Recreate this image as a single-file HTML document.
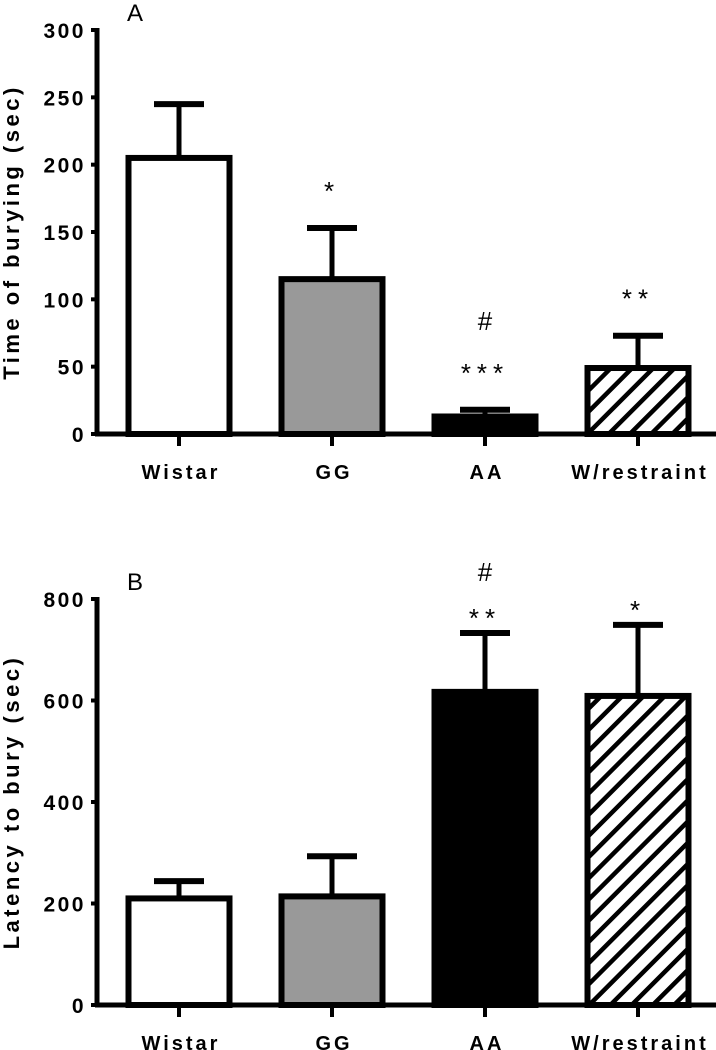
<!DOCTYPE html>
<html><head><meta charset="utf-8"><style>
html,body{margin:0;padding:0;background:#fff;}
svg{display:block;font-family:"Liberation Sans",Arial,sans-serif;}
.tick{font-weight:bold;font-size:21px;letter-spacing:2.5px;}
.cat{font-weight:bold;font-size:20px;letter-spacing:3px;}
.ttl{font-weight:bold;font-size:22px;letter-spacing:3.5px;}
.ann{font-size:26px;}
.pl{font-size:24px;}
</style></head><body>
<svg id="chart" width="716" height="1050" viewBox="0 0 716 1050" xmlns="http://www.w3.org/2000/svg">
<defs>
<pattern id="hatch" patternUnits="userSpaceOnUse" width="15" height="15" patternTransform="rotate(45)">
<rect width="15" height="15" fill="#fff"/>
<rect x="0" y="0" width="4.5" height="15" fill="#000"/>
</pattern>
</defs>
</svg>
<script>
const categories = ["Wistar","GG","AA","W/restraint"];
const buryingTime = [205, 115, 13, 49];
const buryingErr = [40, 38, 5, 24];
const buryingAnn = ["", "*", "***", "**"];
const buryingHash = ["", "", "#", ""];
const buryingTicks = [0, 50, 100, 150, 200, 250, 300];
const latency = [210, 214, 617, 609];
const latencyErr = [34, 79, 116, 140];
const latencyAnn = ["", "", "**", "*"];
const latencyHash = ["", "", "#", ""];
const latencyTicks = [0, 200, 400, 600, 800];
const fills = ["#fff", "#999", "#000", "url(#hatch)"];

const svg = document.getElementById('chart');
const NS = 'http://www.w3.org/2000/svg';
function mk(tag, attrs, parent){
  const e = document.createElementNS(NS, tag);
  for (const k in attrs) e.setAttribute(k, attrs[k]);
  (parent||svg).appendChild(e);
  return e;
}
function panel(opt){
  const g = mk('g', {});
  
  
  const x0 = 97, x1 = 716;
  const yv = v => opt.y0 - (v - 0) / opt.max * (opt.y0 - opt.yTop);
  const centers = [179, 332, 485, 638];
  const bw = 101;
  categories.forEach((c, i) => {
    const cx = centers[i];
    const top = yv(opt.values[i]);
    const et = yv(opt.values[i] + opt.errs[i]);
    const el = mk('line', {x1: cx, x2: cx, y1: top, y2: et, stroke: '#000', 'stroke-width': 5}, g);
    
    
    const cap = mk('line', {x1: cx - 25, x2: cx + 25, y1: et, y2: et, stroke: '#000', 'stroke-width': 6}, g);
    
    
    const r = mk('rect', {x: cx - bw/2, y: top, width: bw, height: opt.y0 - top, fill: fills[i], stroke: '#000', 'stroke-width': 6}, g);
    
    
    if (opt.ann[i]) {
      const t = mk('text', {x: cx, y: et - opt.annGap, 'text-anchor': 'middle', class: 'ann', 'letter-spacing': '6'}, g);
      t.textContent = opt.ann[i];
      
      
    }
    if (opt.hash[i]) {
      const t = mk('text', {x: cx, y: et - opt.hashGap, 'text-anchor': 'middle', class: 'ann'}, g);
      t.textContent = opt.hash[i];
      
      
    }
    const tk = mk('line', {x1: cx, x2: cx, y1: opt.y0, y2: opt.y0 + 12, stroke: '#000', 'stroke-width': 4}, g);
    
    
    const lb = mk('text', {x: cx + 2, y: opt.y0 + 45, 'text-anchor': 'middle', class: 'cat'}, g);
    lb.textContent = c;
    
    
  });
  const ax = mk('line', {x1: x0, x2: x0, y1: opt.yTop - 2, y2: opt.y0 + 2, stroke: '#000', 'stroke-width': 5}, g);
  
  
  const xa = mk('line', {x1: x0 - 2, x2: x1, y1: opt.y0, y2: opt.y0, stroke: '#000', 'stroke-width': 5}, g);
  
  
  opt.ticks.forEach(v => {
    const y = yv(v);
    const l = mk('line', {x1: x0 - 6, x2: x0, y1: y, y2: y, stroke: '#000', 'stroke-width': 4}, g);
    
    
    const t = mk('text', {x: 86, y: y + 8, 'text-anchor': 'end', class: 'tick'}, g);
    t.textContent = v;
    
    
  });
  const yt = mk('text', {x: 0, y: 0, 'text-anchor': 'middle', class: 'ttl', transform: 'translate(19,' + ((opt.y0 + opt.yTop)/2) + ') rotate(-90)'}, g);
  yt.textContent = opt.title;
  
  
  const p = mk('text', {x: 127, y: opt.labelY, class: 'pl'}, g);
  p.textContent = opt.letter;
  
  
}
panel({name:'panel-a-burying-time', values: buryingTime, errs: buryingErr, ann: buryingAnn, hash: buryingHash, ticks: buryingTicks, max: 300, y0: 434, yTop: 30, title: 'Time of burying (sec)', letter: 'A', labelY: 21, annGap: 28, hashGap: 80});
panel({name:'panel-b-latency', values: latency, errs: latencyErr, ann: latencyAnn, hash: latencyHash, ticks: latencyTicks, max: 800, y0: 1005, yTop: 599, title: 'Latency to bury (sec)', letter: 'B', labelY: 590, annGap: 6, hashGap: 52});
</script>
</body></html>
